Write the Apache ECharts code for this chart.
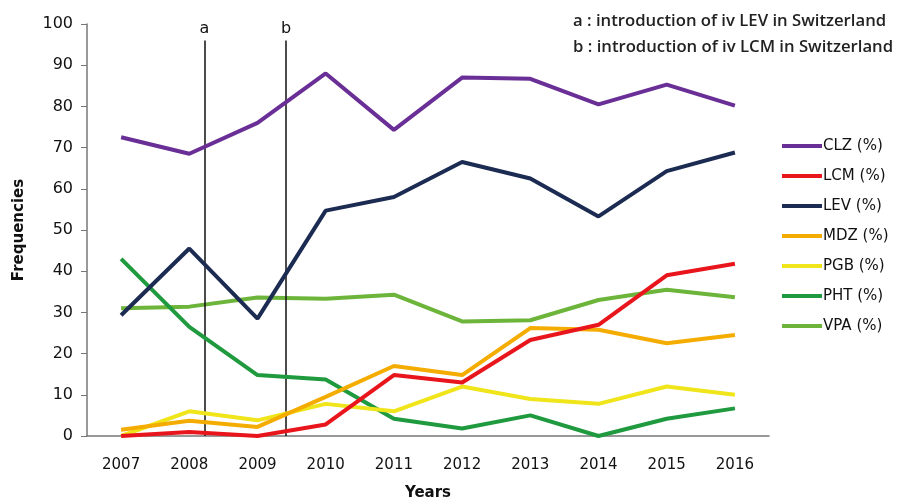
<!DOCTYPE html>
<html><head><meta charset="utf-8">
<script src="https://cdn.jsdelivr.net/npm/echarts@6/dist/echarts.min.js"></script>
<style>html,body{margin:0;padding:0;background:#fff}#c{width:906px;height:504px}</style>
</head><body><div id="c"></div>
<script>
const years = ['2007','2008','2009','2010','2011','2012','2013','2014','2015','2016'];
const yTicks = [0,10,20,30,40,50,60,70,80,90,100];
const CLZ = [72.5,68.5,76,88,74.3,87,86.7,80.5,85.3,80.2];
const LCM = [0,1,0,2.8,14.8,13,23.3,27,39,41.8];
const LEV = [29.3,45.5,28.5,54.7,58,66.5,62.5,53.3,64.3,68.8];
const MDZ = [1.5,3.7,2.2,9.5,17,14.8,26.2,25.8,22.5,24.5];
const PGB = [0,6,3.8,7.8,6,12,9,7.8,12,10];
const PHT = [43,26.5,14.8,13.7,4.2,1.8,5,0,4.2,6.7];
const VPA = [31,31.4,33.6,33.3,34.3,27.8,28.1,33,35.5,33.7];
const seriesNames = ['CLZ (%)','LCM (%)','LEV (%)','MDZ (%)','PGB (%)','PHT (%)','VPA (%)'];
const seriesData = [CLZ,LCM,LEV,MDZ,PGB,PHT,VPA];
const colors = ['#6a2f96','#e8161c','#1c2b52','#f5ac00','#efe51a','#1f9a3e','#6cb53a'];
// event markers (fractional category positions)
const eventLabels = ['a','b'];
const eventPos = [1.22,2.42];
const eventTop = 96;
const notes = ['a : introduction of iv LEV in Switzerland','b : introduction of iv LCM in Switzerland'];

const chart = echarts.init(document.getElementById('c'));
const FONT = 'DejaVu Sans';
const series = seriesNames.map((n,i)=>({
  name:n, type:'line', data:seriesData[i], symbol:'none', smooth:false,
  lineStyle:{width:4,color:colors[i]}, itemStyle:{color:colors[i]}, z: 10-i
}));
series.push({
  type:'line', xAxisIndex:1, data:[], silent:true,
  markLine:{
    symbol:['none','none'], silent:true, animation:false,
    lineStyle:{color:'#111',width:1.5,type:'solid'},
    label:{show:true,position:'end',formatter:p=>p.name,fontFamily:FONT,fontSize:16,color:'#111',distance:4},
    data: eventPos.map((x,i)=>[{name:eventLabels[i],coord:[x,0]},{coord:[x,eventTop]}])
  }
});
chart.setOption({
  animation:false,
  backgroundColor:'#fff',
  title:{
    text: notes.join('\n'), left:573, top:8, padding:0,
    textStyle:{fontFamily:'Open Sans',fontSize:16.7,fontWeight:600,color:'#222',lineHeight:26}
  },
  grid:{left:87,right:137,top:24,bottom:68,outerBoundsMode:'none',containLabel:false},
  legend:{
    orient:'vertical', left:782, top:137, padding:0, itemWidth:40, itemHeight:4, itemGap:12,
    icon:'rect',
    data:seriesNames,
    textStyle:{fontFamily:FONT,fontSize:15,color:'#111',padding:[0,0,0,-4],lineHeight:18}
  },
  xAxis:[{
    type:'category', data:years, boundaryGap:true,
    axisLine:{lineStyle:{color:'#777',width:1.5}}, axisTick:{show:false},
    axisLabel:{fontFamily:FONT,fontSize:15,color:'#111',margin:22},
    name:'Years', nameLocation:'middle', nameGap:50,
    nameTextStyle:{fontFamily:FONT,fontSize:15,fontWeight:'bold',color:'#111'}
  },{
    type:'value', min:-0.5, max:9.5, show:false
  }],
  yAxis:{
    type:'value', min:0, max:100, interval:10,
    axisLine:{show:true,onZero:false,lineStyle:{color:'#777',width:1.5}},
    axisTick:{show:true,length:6,lineStyle:{color:'#777'}},
    splitLine:{show:false},
    axisLabel:{fontFamily:FONT,fontSize:16,color:'#111',margin:14},
    name:'Frequencies', nameLocation:'middle', nameGap:60,
    nameTextStyle:{fontFamily:FONT,fontSize:15,fontWeight:'bold',color:'#111'}
  },
  series
});
</script></body></html>
